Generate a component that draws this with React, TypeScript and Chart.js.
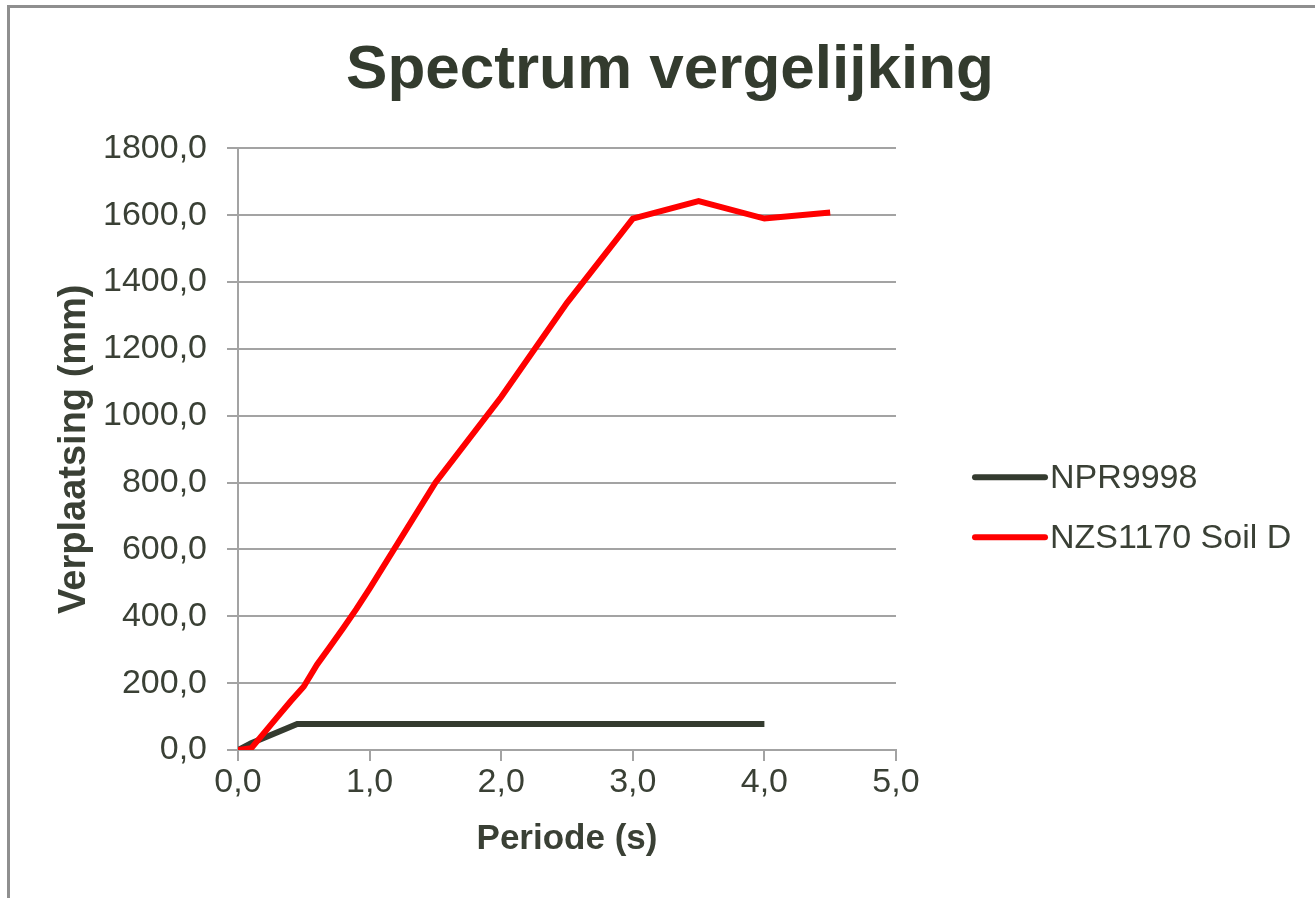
import React, { useEffect, useRef } from 'react';
import { Chart, registerables } from 'chart.js';

Chart.register(...registerables);

// ---- data ----
const TITLE = 'Spectrum vergelijking';
const X_TITLE = 'Periode (s)';
const Y_TITLE = 'Verplaatsing (mm)';

const NPR_LABEL = 'NPR9998';
const NPR_T = [0, 0.1, 0.45, 0.5, 1.0, 1.5, 2.0, 2.5, 3.0, 3.5, 4.0];
const NPR_D = [0, 20, 78, 78, 78, 78, 78, 78, 78, 78, 78];

const NZS_LABEL = 'NZS1170 Soil D';
const NZS_T = [0, 0.1, 0.2, 0.3, 0.4, 0.5, 0.6, 0.7, 0.8, 0.9, 1.0, 1.5, 2.0, 2.5, 3.0, 3.5, 4.0, 4.5];
const NZS_D = [0, 5, 52, 99, 146, 190, 255, 310, 365, 422, 483, 800, 1056, 1338, 1590, 1642, 1590, 1608];

const X_MIN = 0;
const X_MAX = 5;
const X_STEP = 1;
const Y_MIN = 0;
const Y_MAX = 1800;
const Y_STEP = 200;

// ---- styles ----
const FONT = '"Liberation Sans", Arial, sans-serif';
const TEXT = '#3a4035';
const GRID = '#a3a3a3';
const BLACK = '#343b2f';
const RED = '#ff0000';

const fmt = (v: number) => Number(v).toFixed(1).replace('.', ',');

const legendPlugin = {
  id: 'sideLegend',
  afterDraw(chart: any) {
    const { ctx, chartArea } = chart;
    const x0 = chartArea.right + 79;
    const yc = (chartArea.top + chartArea.bottom) / 2 + 58;
    const gap = 60;
    const items = chart.data.datasets.slice().sort((a: any, b: any) => (a.legendIndex ?? 0) - (b.legendIndex ?? 0));
    const n = items.length;
    ctx.save();
    items.forEach((ds: any, i: number) => {
      const y = yc + (i - (n - 1) / 2) * gap;
      ctx.strokeStyle = ds.borderColor;
      ctx.lineWidth = ds.borderWidth;
      ctx.lineCap = 'round';
      ctx.beginPath();
      ctx.moveTo(x0, y);
      ctx.lineTo(x0 + 70, y);
      ctx.stroke();
      ctx.fillStyle = TEXT;
      ctx.font = `34px ${FONT}`;
      ctx.textBaseline = 'middle';
      ctx.textAlign = 'left';
      ctx.fillText(ds.label, x0 + 75, y + 1);
    });
    ctx.restore();
  },
};

export default function App() {
  const ref = useRef<HTMLCanvasElement>(null);

  useEffect(() => {
    if (!ref.current) return;
    const chart = new Chart(ref.current, {
      type: 'scatter',
      data: {
        datasets: [
          {
            label: NPR_LABEL,
            legendIndex: 0,
            order: 1,
            data: NPR_T.map((t, i) => ({ x: t, y: NPR_D[i] })),
            showLine: true,
            borderColor: BLACK,
            backgroundColor: BLACK,
            borderWidth: 6,
            pointRadius: 0,
            tension: 0,
          } as any,
          {
            label: NZS_LABEL,
            legendIndex: 1,
            order: 0,
            data: NZS_T.map((t, i) => ({ x: t, y: NZS_D[i] })),
            showLine: true,
            borderColor: RED,
            backgroundColor: RED,
            borderWidth: 6,
            pointRadius: 0,
            tension: 0,
          } as any,
        ],
      },
      options: {
        responsive: false,
        animation: false,
        devicePixelRatio: 1,
        layout: { padding: { left: 25, right: 0, top: 0, bottom: 0 } },
        plugins: {
          legend: { display: false },
          tooltip: { enabled: false },
          title: {
            display: true,
            text: TITLE,
            color: '#333b2e',
            font: { family: FONT, size: 62, weight: 'bold', lineHeight: 1.2 },
            padding: { top: 34, bottom: 40 },
          },
        },
        scales: {
          x: {
            type: 'linear',
            min: X_MIN,
            max: X_MAX,
            afterFit: (s: any) => {
              s.height = 148;
            },
            ticks: {
              stepSize: X_STEP,
              color: TEXT,
              font: { family: FONT, size: 34 },
              padding: 1,
              callback: (v: any) => fmt(v),
              maxRotation: 0,
            },
            grid: {
              drawOnChartArea: false,
              drawTicks: true,
              tickLength: 11,
              color: GRID,
              lineWidth: 2,
            },
            border: { display: true, color: GRID, width: 2 },
            title: {
              display: true,
              text: X_TITLE,
              color: TEXT,
              font: { family: FONT, size: 35, weight: 'bold', lineHeight: 1.2 },
              padding: { top: 0, bottom: 38 },
            },
          },
          y: {
            type: 'linear',
            min: Y_MIN,
            max: Y_MAX,
            afterFit: (s: any) => {
              s.width = 213;
            },
            ticks: {
              stepSize: Y_STEP,
              color: TEXT,
              font: { family: FONT, size: 34 },
              padding: 20,
              callback: (v: any) => fmt(v),
            },
            grid: {
              drawOnChartArea: true,
              drawTicks: true,
              tickLength: 11,
              color: GRID,
              lineWidth: 2,
            },
            border: { display: true, color: GRID, width: 2 },
            title: {
              display: true,
              text: Y_TITLE,
              color: TEXT,
              font: { family: FONT, size: 38, weight: 'bold', lineHeight: 1.2 },
              padding: { top: 27, bottom: 0 },
            },
          },
          side: {
            type: 'linear',
            position: 'right',
            display: true,
            afterFit: (s: any) => {
              s.width = 419;
            },
            ticks: { display: false },
            grid: { display: false, drawTicks: false },
            border: { display: false },
          },
        },
      },
      plugins: [legendPlugin],
    });
    return () => chart.destroy();
  }, []);

  return (
    <div
      style={{
        position: 'fixed',
        left: 0,
        top: 0,
        width: 1315,
        height: 898,
        background: '#ffffff',
        overflow: 'hidden',
      }}
    >
      <canvas ref={ref} width={1315} height={898} style={{ position: 'absolute', left: 0, top: 0 }} />
      <div style={{ position: 'absolute', left: 7, top: 5, right: 0, height: 3, background: '#8f8f8f' }} />
      <div style={{ position: 'absolute', left: 7, top: 5, bottom: 0, width: 3, background: '#8f8f8f' }} />
    </div>
  );
}
